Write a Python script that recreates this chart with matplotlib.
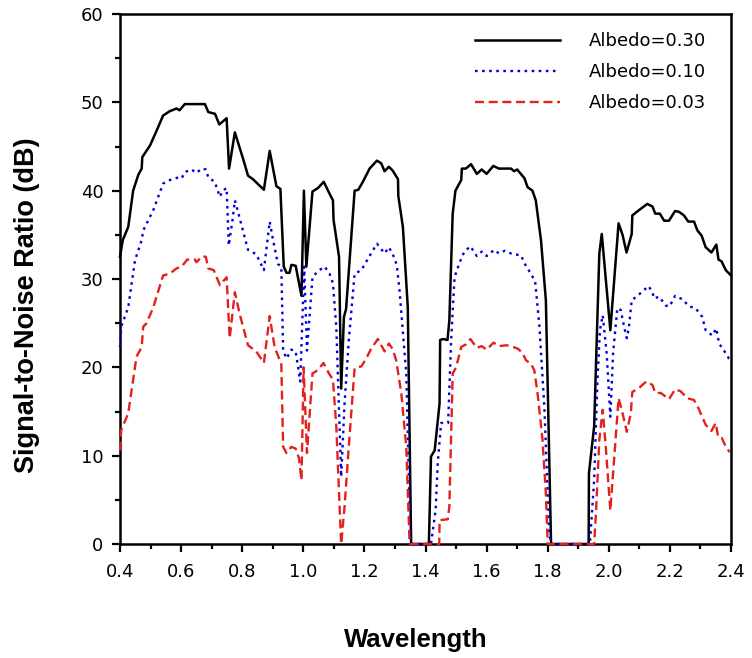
import matplotlib
matplotlib.use("Agg")
import matplotlib.pyplot as plt
from matplotlib.ticker import MultipleLocator

# Albedo = 0.30
wl_030 = [0.400, 0.409, 0.427, 0.443, 0.460, 0.471, 0.473, 0.498, 0.520, 0.541,
          0.563, 0.585, 0.595, 0.612, 0.678, 0.689, 0.711, 0.725, 0.749, 0.757,
          0.776, 0.803, 0.819, 0.835, 0.871, 0.890, 0.912, 0.925, 0.936, 0.945,
          0.955, 0.961, 0.975, 0.994, 1.002, 1.010, 1.030, 1.048, 1.067, 1.081,
          1.097, 1.099, 1.117, 1.124, 1.133, 1.140, 1.168, 1.180, 1.195, 1.217,
          1.241, 1.255, 1.266, 1.280, 1.292, 1.310, 1.311, 1.326, 1.342, 1.353,
          1.411, 1.418, 1.430, 1.446, 1.448, 1.458, 1.472, 1.478, 1.489, 1.498,
          1.517, 1.519, 1.532, 1.549, 1.568, 1.584, 1.600, 1.622, 1.640, 1.680,
          1.690, 1.700, 1.724, 1.734, 1.750, 1.761, 1.778, 1.794, 1.811, 1.934,
          1.935, 1.952, 1.969, 1.977, 2.005, 2.032, 2.045, 2.058, 2.075, 2.077,
          2.099, 2.126, 2.143, 2.152, 2.167, 2.181, 2.197, 2.217, 2.230, 2.246,
          2.260, 2.279, 2.290, 2.304, 2.317, 2.336, 2.352, 2.359, 2.369, 2.383,
          2.400]
snr_030 = [32.5, 34.4, 35.9, 40.0, 41.8, 42.5, 43.8, 45.1, 46.8, 48.5,
           49.0, 49.3, 49.1, 49.8, 49.8, 48.9, 48.7, 47.5, 48.2, 42.5,
           46.6, 43.6, 41.7, 41.3, 40.1, 44.5, 40.5, 40.2, 31.4, 30.7,
           30.7, 31.6, 31.5, 28.1, 40.0, 31.4, 39.9, 40.3, 41.0, 40.0,
           38.9, 36.7, 32.5, 17.6, 25.7, 26.6, 40.0, 40.1, 41.0, 42.5,
           43.4, 43.1, 42.2, 42.7, 42.3, 41.3, 39.4, 35.9, 26.8, 0.0,
           0.0, 9.9, 10.6, 15.9, 23.1, 23.2, 23.1, 25.3, 37.4, 40.0,
           41.2, 42.5, 42.5, 43.0, 41.9, 42.4, 41.9, 42.8, 42.5, 42.5,
           42.2, 42.4, 41.4, 40.4, 40.0, 38.9, 34.4, 27.6, 0.0, 0.0,
           8.0, 13.3, 32.9, 35.1, 24.2, 36.3, 35.0, 33.0, 35.1, 37.2,
           37.8, 38.5, 38.2, 37.4, 37.4, 36.6, 36.6, 37.7, 37.6, 37.2,
           36.5, 36.5, 35.5, 34.9, 33.6, 33.0, 33.9, 32.2, 32.0, 31.0,
           30.4]

# Albedo = 0.10
wl_010 = [0.400, 0.404, 0.427, 0.449, 0.471, 0.476, 0.509, 0.541, 0.563, 0.591,
          0.602, 0.612, 0.634, 0.650, 0.667, 0.681, 0.689, 0.710, 0.727, 0.736,
          0.749, 0.756, 0.768, 0.776, 0.787, 0.819, 0.846, 0.871, 0.890, 0.901,
          0.917, 0.928, 0.934, 0.945, 0.961, 0.975, 0.990, 1.003, 1.012, 1.030,
          1.048, 1.070, 1.086, 1.097, 1.108, 1.124, 1.135, 1.149, 1.168, 1.190,
          1.200, 1.222, 1.241, 1.266, 1.280, 1.293, 1.306, 1.315, 1.337, 1.351,
          1.418, 1.433, 1.440, 1.451, 1.474, 1.484, 1.495, 1.511, 1.527, 1.547,
          1.568, 1.584, 1.600, 1.625, 1.640, 1.660, 1.685, 1.712, 1.727, 1.745,
          1.759, 1.773, 1.789, 1.805, 1.811, 1.938, 1.952, 1.963, 1.971, 1.980,
          1.993, 2.005, 2.014, 2.028, 2.039, 2.050, 2.059, 2.066, 2.075, 2.094,
          2.130, 2.143, 2.148, 2.165, 2.186, 2.199, 2.217, 2.241, 2.263, 2.284,
          2.306, 2.317, 2.339, 2.352, 2.361, 2.377, 2.393, 2.400]
snr_010 = [22.3, 24.6, 26.8, 32.1, 34.4, 35.5, 37.8, 40.8, 41.2, 41.5,
           41.4, 42.1, 42.4, 42.0, 42.5, 42.4, 41.5, 41.0, 39.3, 40.0,
           40.3, 33.8, 36.6, 38.9, 37.5, 33.3, 32.8, 31.0, 36.5, 34.4,
           31.7, 31.4, 21.9, 21.0, 22.0, 21.8, 18.4, 31.4, 21.9, 30.2,
           30.9, 31.4, 30.6, 29.5, 24.6, 7.6, 15.9, 23.1, 30.6, 31.0,
           31.6, 32.9, 34.0, 32.9, 33.6, 32.8, 31.6, 28.7, 19.3, 0.0,
           0.0, 3.8, 9.1, 13.7, 13.7, 23.1, 30.2, 31.8, 33.1, 33.7,
           32.6, 33.1, 32.6, 33.3, 32.9, 33.2, 32.8, 32.7, 31.6, 30.6,
           29.7, 24.6, 15.5, 1.2, 0.0, 0.0, 7.2, 18.6, 24.2, 25.9,
           21.6, 14.4, 21.6, 26.7, 26.5, 24.6, 23.3, 24.6, 27.6, 28.1,
           29.2, 28.5, 27.8, 28.0, 27.0, 26.9, 28.1, 27.7, 26.9, 26.7,
           25.7, 24.2, 23.6, 24.4, 22.7, 21.9, 21.0, 20.8]

# Albedo = 0.03
wl_003 = [0.400, 0.404, 0.427, 0.443, 0.454, 0.471, 0.476, 0.487, 0.509, 0.541,
          0.563, 0.585, 0.602, 0.620, 0.645, 0.650, 0.670, 0.681, 0.689, 0.707,
          0.727, 0.749, 0.759, 0.776, 0.792, 0.819, 0.846, 0.871, 0.890, 0.906,
          0.923, 0.928, 0.934, 0.945, 0.961, 0.975, 0.986, 0.994, 1.001, 1.012,
          1.030, 1.048, 1.066, 1.084, 1.097, 1.108, 1.124, 1.135, 1.152, 1.168,
          1.190, 1.206, 1.222, 1.244, 1.266, 1.280, 1.292, 1.304, 1.321, 1.337,
          1.348, 1.445, 1.446, 1.473, 1.478, 1.489, 1.500, 1.517, 1.532, 1.547,
          1.568, 1.584, 1.600, 1.623, 1.640, 1.665, 1.687, 1.703, 1.718, 1.729,
          1.745, 1.756, 1.767, 1.783, 1.794, 1.800, 1.952, 1.958, 1.969, 1.980,
          1.990, 2.005, 2.018, 2.032, 2.045, 2.059, 2.072, 2.077, 2.100, 2.123,
          2.143, 2.152, 2.170, 2.197, 2.217, 2.235, 2.257, 2.279, 2.293, 2.317,
          2.336, 2.350, 2.358, 2.370, 2.383, 2.396]
snr_003 = [10.6, 12.9, 14.8, 18.6, 21.2, 22.3, 24.6, 25.0, 26.8, 30.4,
           30.6, 31.2, 31.4, 32.2, 32.2, 31.9, 32.6, 32.5, 31.2, 31.0,
           29.3, 30.2, 23.3, 28.5, 26.0, 22.5, 21.8, 20.5, 25.8, 22.3,
           20.8, 20.5, 11.0, 10.3, 11.0, 10.8, 9.7, 7.2, 20.0, 10.3,
           19.3, 19.7, 20.5, 19.3, 18.6, 13.3, 0.0, 4.2, 12.5, 19.9,
           20.1, 21.0, 22.1, 23.2, 21.8, 22.7, 22.1, 20.8, 17.0, 11.0,
           0.0, 0.0, 2.7, 2.8, 4.2, 19.3, 20.0, 22.3, 22.6, 23.2,
           22.2, 22.4, 22.0, 22.8, 22.4, 22.5, 22.3, 22.1, 21.6, 20.8,
           20.4, 19.7, 17.0, 11.8, 5.7, 0.0, 0.0, 3.5, 11.8, 15.2,
           11.0, 3.8, 9.9, 16.5, 14.8, 12.7, 14.8, 17.2, 17.7, 18.4,
           18.0, 17.1, 17.1, 16.4, 17.5, 17.3, 16.5, 16.3, 15.4, 13.5,
           12.8, 13.7, 12.1, 12.0, 11.0, 10.4]

labels = ["Albedo=0.30", "Albedo=0.10", "Albedo=0.03"]

fig = plt.figure(figsize=(7.52, 6.58), dpi=100)
ax = fig.add_axes([120 / 752, 1 - 544 / 658, 611 / 752, 530 / 658])

ax.plot(wl_030, snr_030, color="black", lw=1.8, label=labels[0],
        clip_on=False, zorder=3, solid_joinstyle="round")
ax.plot(wl_010, snr_010, color="#0000dd", lw=1.7, linestyle=(0, (1.1, 1.9)),
        label=labels[1], clip_on=False, zorder=3)
ax.plot(wl_003, snr_003, color="#e3201c", lw=1.7, linestyle=(0, (3.8, 2.0)),
        label=labels[2], clip_on=False, zorder=4)

ax.set_xlim(0.4, 2.4)
ax.set_ylim(0, 60)
ax.xaxis.set_major_locator(MultipleLocator(0.2))
ax.xaxis.set_minor_locator(MultipleLocator(0.1))
ax.yaxis.set_major_locator(MultipleLocator(10))
ax.yaxis.set_minor_locator(MultipleLocator(5))
ax.xaxis.set_major_formatter(plt.FuncFormatter(lambda v, p: f"{v:.1f}"))

for s in ax.spines.values():
    s.set_linewidth(1.8)
ax.tick_params(which="major", direction="out", length=6, width=1.6,
               labelsize=13, pad=6)
ax.tick_params(which="minor", direction="out", length=3.5, width=1.6)
ax.tick_params(axis="x", which="major", pad=8)

fig.text(27 / 752, 1 - 305 / 658, "Signal-to-Noise Ratio (dB)", rotation=90,
         ha="center", va="center", fontsize=19.5, fontweight="bold",
         family="Liberation Sans")
fig.text(416 / 752, 1 - 640 / 658, "Wavelength", ha="center", va="center",
         fontsize=18.5, fontweight="bold", family="Liberation Sans")

ax.legend(loc="upper left", bbox_to_anchor=(475 / 752, 1 - 32 / 658),
          bbox_transform=fig.transFigure, frameon=False, fontsize=13,
          handlelength=4.7, handletextpad=1.6, labelspacing=0.72,
          borderpad=0, borderaxespad=0)

fig.savefig("out.png", dpi=100)
